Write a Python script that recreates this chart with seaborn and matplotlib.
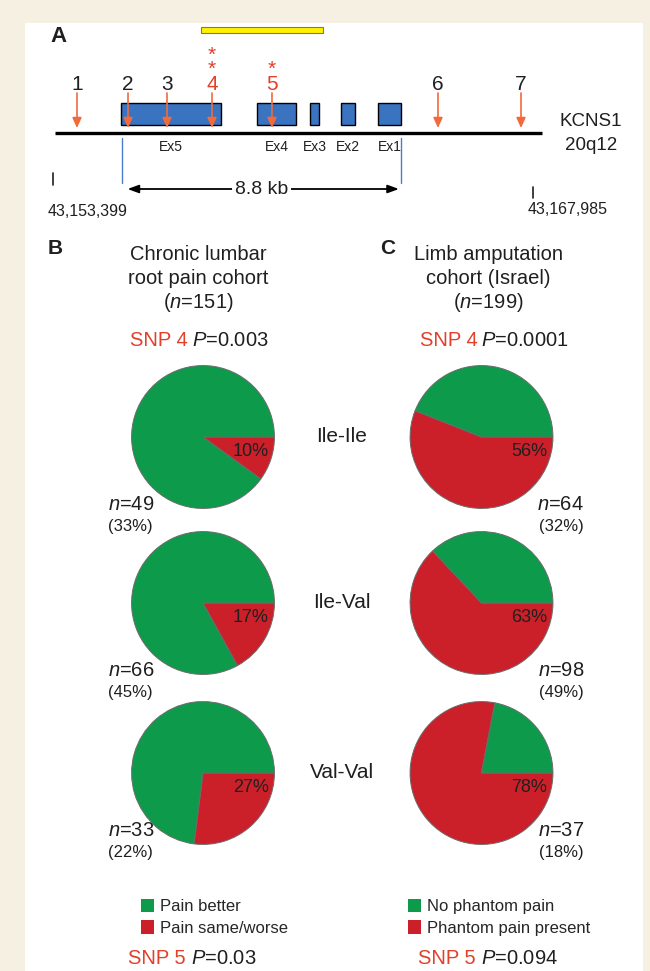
import matplotlib
matplotlib.use("Agg")
import matplotlib.pyplot as plt
from matplotlib.patches import Rectangle, Patch
import seaborn as sns

# ---------------- data ----------------
genotypes = ["Ile-Ile", "Ile-Val", "Val-Val"]

lumbar_worse_pct = [10, 17, 27]          # % pain same/worse
lumbar_n = [49, 66, 33]
lumbar_share = [33, 45, 22]
lumbar_labels = ["Pain better", "Pain same/worse"]

amput_pain_pct = [56, 63, 78]            # % phantom pain present
amput_n = [64, 98, 37]
amput_share = [32, 49, 18]
amput_labels = ["No phantom pain", "Phantom pain present"]

snp_ids = ["1", "2", "3", "4", "5", "6", "7"]
snp_pos_kb = [0.757, 2.366, 3.596, 5.015, 6.907, 12.143, 14.761]
snp_stars = [0, 0, 0, 2, 1, 0, 0]

exon_names = ["Ex5", "Ex4", "Ex3", "Ex2", "Ex1"]
exon_start_kb = [2.145, 6.434, 8.106, 9.084, 10.251]
exon_end_kb = [5.299, 7.664, 8.390, 9.525, 10.976]

gene_start_kb, gene_end_kb = 2.176, 10.976
ld_block_kb = [4.668, 8.516]
region_labels = ["43,153,399", "43,167,985"]
region_kb = [0.0, 15.140]
chrom_line_kb = [0.063, 15.424]

# ---------------- style ----------------
sns.set_theme(style="white")
plt.rcParams["font.family"] = ["Liberation Sans", "DejaVu Sans"]
plt.rcParams["mathtext.fontset"] = "custom"
plt.rcParams["mathtext.rm"] = "Liberation Sans"
plt.rcParams["mathtext.it"] = "Liberation Sans:italic"

GREEN = "#0e9a4b"
RED = "#cb1f2a"
TXT_RED = "#e2402b"
ARROW = "#f26a3c"
BLUE = "#3a73bf"
CREAM = "#f5f0e1"
YELLOW = "#fff200"
INK = "#1f1f1f"

W, H = 650, 971
fig = plt.figure(figsize=(W / 100, H / 100), dpi=100, facecolor=CREAM)

# page layer in pixel units
bg = fig.add_axes([0, 0, 1, 1])
bg.set_xlim(0, W)
bg.set_ylim(H, 0)
bg.axis("off")
bg.add_patch(Rectangle((25, 23), 618, 960, facecolor="white", edgecolor="none"))

# ---------------- panel A : gene diagram ----------------
px_per_kb = 1 / 0.031541
x0_px = 53
gx = fig.add_axes([0, 1 - 230 / H, 1, 230 / H])
gx.set_xlim((0 - x0_px) / px_per_kb, (W - x0_px) / px_per_kb)
gx.set_ylim(230, 0)
gx.axis("off")
gx.patch.set_visible(False)

gx.text((50 - x0_px) / px_per_kb, 37, "A", fontsize=16, fontweight="bold",
        ha="left", va="center", color=INK)

gx.add_patch(Rectangle((ld_block_kb[0], 27), ld_block_kb[1] - ld_block_kb[0], 6,
                       facecolor=YELLOW, edgecolor="#777777", linewidth=0.8))

gx.plot(chrom_line_kb, [133, 133], color="black", linewidth=2.4, solid_capstyle="butt")

for name, s, e in zip(exon_names, exon_start_kb, exon_end_kb):
    gx.add_patch(Rectangle((s, 103), e - s, 22, facecolor=BLUE,
                           edgecolor="black", linewidth=1.0, zorder=3))
    gx.text((s + e) / 2, 147, name, fontsize=10, ha="center", va="center", color=INK)

for sid, pos, stars in zip(snp_ids, snp_pos_kb, snp_stars):
    if stars:
        # significance stars stacked above the SNP number, in one label
        gx.text(pos, 94, "*\n" * stars + sid, fontsize=15, ha="center",
                va="bottom", color=TXT_RED, linespacing=0.72)
    else:
        gx.text(pos, 94, sid, fontsize=15, ha="center", va="bottom", color=INK)
    gx.annotate("", xy=(pos, 128), xytext=(pos, 93),
                arrowprops=dict(arrowstyle="-|>,head_length=0.55,head_width=0.25",
                                color=ARROW, lw=1.2, shrinkA=0, shrinkB=0,
                                mutation_scale=11), zorder=4)

gx.text((559 - x0_px) / px_per_kb, 122, "KCNS1", fontsize=13.5, ha="left",
        va="center", color=INK)
gx.text((591 - x0_px) / px_per_kb, 145, "20q12", fontsize=13.5, ha="center",
        va="center", color=INK)

for xb in (gene_start_kb, gene_end_kb):
    gx.plot([xb, xb], [138, 183], color="#4a7cc9", linewidth=1.0)
gx.annotate("", xy=(gene_start_kb, 189), xytext=(gene_end_kb, 189),
            arrowprops=dict(arrowstyle="<|-|>,head_length=0.6,head_width=0.22",
                            color="black", lw=1.3, shrinkA=1.5, shrinkB=4,
                            mutation_scale=11))
gx.text((gene_start_kb + gene_end_kb) / 2, 189,
        f"{gene_end_kb - gene_start_kb:.1f} kb", fontsize=14, ha="center",
        va="center", color=INK,
        bbox=dict(facecolor="white", edgecolor="none", pad=2))

gx.plot([region_kb[0]] * 2, [173, 185], color=INK, linewidth=1.2)
gx.plot([region_kb[1]] * 2, [187, 198], color=INK, linewidth=1.2)
gx.text(region_kb[0] - 0.16, 212, region_labels[0], fontsize=11.5, ha="left",
        va="center", color=INK)
gx.text(region_kb[1] - 0.16, 209, region_labels[1], fontsize=11.5, ha="left",
        va="center", color=INK)

# ---------------- panels B and C : headers ----------------
bg.text(48, 248, "B", fontsize=15, fontweight="bold", ha="left", va="center", color=INK)
bg.text(380, 248, "C", fontsize=15, fontweight="bold", ha="left", va="center", color=INK)

for x, lines in ((198, ["Chronic lumbar", "root pain cohort", "($\\mathit{n}$=151)"]),
                 (488, ["Limb amputation", "cohort (Israel)", "($\\mathit{n}$=199)"])):
    for y, t in zip((255, 278, 302), lines):
        bg.text(x, y, t, fontsize=14.5, ha="center", va="center", color=INK)


def snp_line(x_snp, x_p, y, snp, pval):
    bg.text(x_snp, y, snp, fontsize=14.5, ha="left", va="center", color=TXT_RED)
    bg.text(x_p, y, f"$\\mathit{{P}}$={pval}", fontsize=14.5, ha="left",
            va="center", color=INK)


snp_line(130, 192, 340, "SNP 4", "0.003")
snp_line(420, 481, 340, "SNP 4", "0.0001")
snp_line(128, 191, 958, "SNP 5", "0.03")
snp_line(418, 481, 958, "SNP 5", "0.094")

# ---------------- pies ----------------
row_cy = [437, 603, 773]
n_y = [504, 670, 830]
share_y = [526, 692, 853]
PIE_PX = 150
LIM = 1.05


def pie_axes(cx, cy):
    ax = fig.add_axes([(cx - PIE_PX / 2) / W, 1 - (cy + PIE_PX / 2) / H,
                       PIE_PX / W, PIE_PX / H])
    ax.set_xlim(-LIM, LIM)
    ax.set_ylim(-LIM, LIM)
    ax.set_aspect("equal")
    ax.axis("off")
    ax.patch.set_visible(False)
    return ax


def draw_pie(ax, red_pct):
    ax.pie([red_pct, 100 - red_pct], colors=[RED, GREEN], startangle=0,
           counterclock=False, radius=1,
           wedgeprops=dict(edgecolor="#6b6b6b", linewidth=0.7))
    ax.set_xlim(-LIM, LIM)
    ax.set_ylim(-LIM, LIM)
    ax.text(0.92, -0.20, f"{red_pct}%", fontsize=13, ha="right", va="center",
            color=INK)


for i, g in enumerate(genotypes):
    cy = row_cy[i]
    draw_pie(pie_axes(203, cy), lumbar_worse_pct[i])
    draw_pie(pie_axes(481.5, cy), amput_pain_pct[i])
    bg.text(342, cy, g, fontsize=15, ha="center", va="center", color=INK)

    bg.text(108, n_y[i], f"$\\mathit{{n}}$={lumbar_n[i]}", fontsize=14.5,
            ha="left", va="center", color=INK)
    bg.text(108, share_y[i], f"({lumbar_share[i]}%)", fontsize=12,
            ha="left", va="center", color=INK)
    bg.text(584, n_y[i], f"$\\mathit{{n}}$={amput_n[i]}", fontsize=14.5,
            ha="right", va="center", color=INK)
    bg.text(584, share_y[i], f"({amput_share[i]}%)", fontsize=12,
            ha="right", va="center", color=INK)

# ---------------- legends ----------------
for labels, x_left in ((lumbar_labels, 141), (amput_labels, 408)):
    handles = [Patch(facecolor=GREEN, edgecolor="none"),
               Patch(facecolor=RED, edgecolor="none")]
    fig.legend(handles, labels, loc="upper left",
               bbox_to_anchor=(x_left / W, 1 - 899 / H), frameon=False,
               fontsize=12, handlelength=0.8, handleheight=0.85,
               handletextpad=0.35, labelspacing=0.35, borderpad=0,
               borderaxespad=0)

fig.savefig("out.png", dpi=100, facecolor=CREAM)
